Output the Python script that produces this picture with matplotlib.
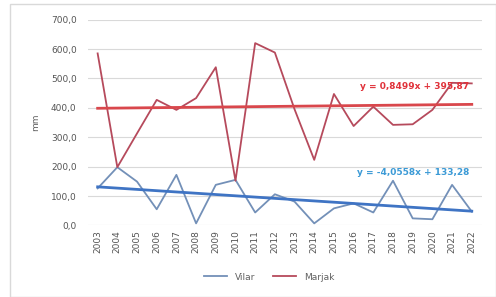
import matplotlib.pyplot as plt
import numpy as np
from matplotlib.patches import Rectangle

years = list(range(2003, 2023))
vilar = [126, 198, 149, 55, 172, 7, 138, 155, 44, 106, 81, 7, 58, 75, 44, 152, 24, 21, 138, 47]
marjak = [585, 198, 313, 427, 393, 433, 538, 152, 620, 588, 395, 223, 447, 338, 404, 342, 344, 393, 485, 483]
yticks = [0, 100, 200, 300, 400, 500, 600, 700]
marjak_eq = "y = 0,8499x + 395,87"
vilar_eq = "y = -4,0558x + 133,28"


def main():
    fig = plt.figure(figsize=(4.96, 2.97), dpi=100)
    fig.patches.append(Rectangle((0.02, 0.0), 0.98, 0.985, transform=fig.transFigure,
                                 fill=False, edgecolor="#d9d9d9", linewidth=1))
    ax = fig.add_axes([0.177, 0.241, 0.794, 0.693])

    x = np.array(years)
    idx = np.arange(1, len(years) + 1)
    ax.plot(x, vilar, color="#7390b8", linewidth=1.3, label="Vilar")
    ax.plot(x, marjak, color="#b64a5c", linewidth=1.3, label="Marjak")

    # linear trends (Excel style, x = 1..n)
    for vals, col in ((vilar, "#3f74c4"), (marjak, "#d9474c")):
        k, b = np.polyfit(idx, vals, 1)
        ax.plot(x, k * idx + b, color=col, linewidth=2.0)

    ax.text(0.69, 0.675, marjak_eq, transform=ax.transAxes, color="#e0323a",
            fontsize=6.5, fontweight="bold", va="center")
    ax.text(0.683, 0.255, vilar_eq, transform=ax.transAxes, color="#3b9ad6",
            fontsize=6.5, fontweight="bold", va="center")

    ax.set_xlim(2002.5, 2022.5)
    ax.set_ylim(0, 700)
    ax.set_yticks(yticks)
    ax.set_yticklabels([f"{v},0" for v in yticks])
    ax.set_xticks(years)
    ax.set_xticklabels([str(y) for y in years], rotation=90)
    ax.tick_params(axis="both", length=0, labelsize=6.5, colors="#555555")
    ax.tick_params(axis="y", pad=8)
    ax.grid(axis="y", color="#d9d9d9", linewidth=0.8)
    ax.set_axisbelow(True)
    for s in ax.spines.values():
        s.set_visible(False)
    ax.set_ylabel("mm", fontsize=6.5, color="#606060", labelpad=8)

    ax.legend(loc="upper center", bbox_to_anchor=(0.46, -0.19), ncol=2, frameon=False,
              fontsize=6.5, labelcolor="#606060", handlelength=2.6, columnspacing=2)

    fig.savefig("out.png", dpi=100)


if __name__ == '__main__':
    main()
